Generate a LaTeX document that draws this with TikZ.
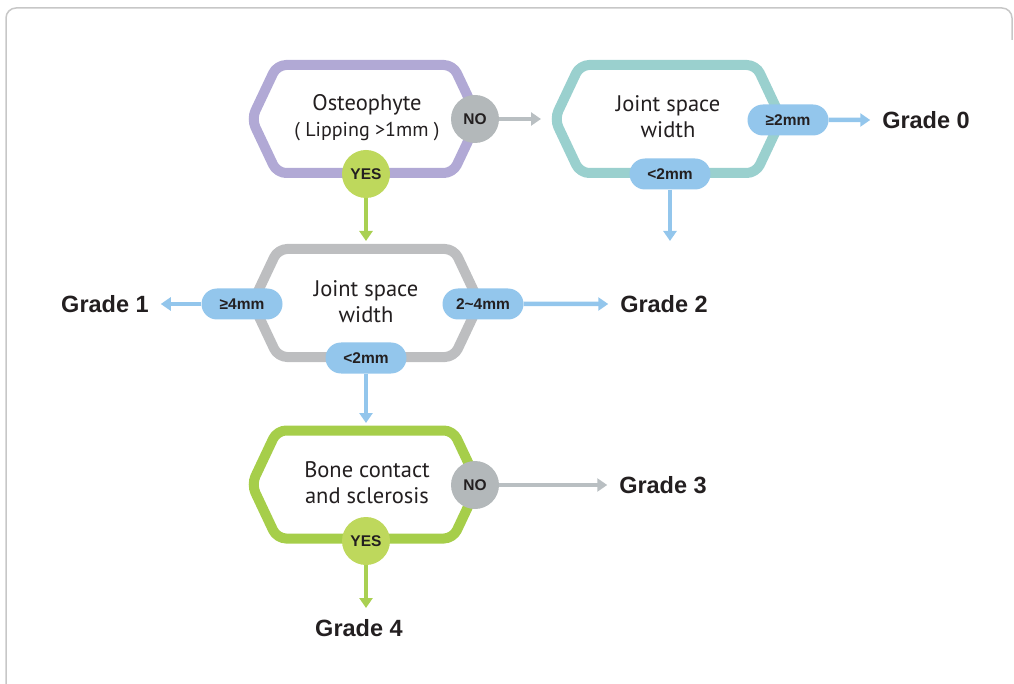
\documentclass[tikz,border=0pt]{standalone}
\usepackage{fontspec}
\setmainfont{Liberation Sans}
\newfontfamily\hexfont{PT Sans}
\usetikzlibrary{arrows.meta,shapes.misc}
\definecolor{cpurple}{HTML}{B1A9D5}
\definecolor{cteal}{HTML}{9AD0CE}
\definecolor{cgray}{HTML}{BDBEC0}
\definecolor{cgreen}{HTML}{A6CE4A}
\definecolor{cno}{HTML}{B3B8BA}
\definecolor{cyes}{HTML}{BED85C}
\definecolor{cblue}{HTML}{93C6EC}
\definecolor{carrgray}{HTML}{B9BFC2}
\definecolor{carrgreen}{HTML}{A9D052}
\definecolor{ctext}{HTML}{231F20}
\tikzset{
  hexline/.style={line width=10pt, rounded corners=9pt, fill=white},
  hextext/.style={align=center, text=ctext, font=\hexfont\fontsize{22.5}{26}\selectfont, inner sep=0pt},
  circ/.style={circle, minimum size=48pt, inner sep=0pt, text=ctext, font=\bfseries\fontsize{15.5}{17}\selectfont},
  nocirc/.style={circ, fill=cno},
  yescirc/.style={circ, fill=cyes},
  pill/.style={rounded rectangle, fill=cblue, minimum width=81pt, minimum height=31pt, inner sep=0pt, text=ctext, font=\bfseries\fontsize{15.5}{17}\selectfont},
  grade/.style={inner sep=0pt, outer sep=12pt, text=ctext, font=\bfseries\fontsize{23.5}{26}\selectfont},
  conn/.style={line width=4.5pt, -{Triangle[length=10pt,width=13pt]}},
  bluearr/.style={conn, draw=cblue},
  grayarr/.style={conn, draw=carrgray},
  greenarr/.style={conn, draw=carrgreen},
}
\newcommand\hexshape[3]{%
  \draw[hexline, draw=#3] (#1-113.5,#2) -- (#1-88,#2-54) -- (#1+88,#2-54) -- (#1+113.5,#2) -- (#1+88,#2+54) -- (#1-88,#2+54) -- cycle;}
\begin{document}
\begin{tikzpicture}[x=1pt,y=-1pt]
\useasboundingbox (0,0) rectangle (1014,684);
% frame
\draw[line width=1.5pt, draw=black!22, rounded corners=10pt] (6,700) -- (6,8) -- (1012,8) -- (1012,40);
% hexagons
\hexshape{365}{119}{cpurple}
\hexshape{668}{119}{cteal}
\hexshape{366}{303}{cgray}
\hexshape{365}{484.5}{cgreen}
% texts
\node[hextext] (t1) at (367,118) {Osteophyte\\{\fontsize{20}{26}\selectfont( Lipping >1mm )}};
\node[hextext] (t2) at (668,117) {Joint space\\width};
\node[hextext] (t3) at (366,302) {Joint space\\width};
\node[hextext] (t4) at (367,483) {Bone contact\\and sclerosis};
% decision markers
\node[nocirc] (no1) at (475,119) {NO};
\node[yescirc] (yes1) at (366,174) {YES};
\node[nocirc] (no4) at (475,485) {NO};
\node[yescirc] (yes4) at (366,541) {YES};
\node[pill] (p20) at (788,120) {≥2mm};
\node[pill] (p21) at (670,174) {<2mm};
\node[pill] (p4) at (242,304) {≥4mm};
\node[pill] (p24) at (483,304) {2\char`\~4mm};
\node[pill] (p32) at (366,358) {<2mm};
% grades
\node[grade] (g0) at (926,120) {Grade 0};
\node[grade] (g1) at (105,304) {Grade 1};
\node[grade] (g2) at (664,304) {Grade 2};
\node[grade] (g3) at (663,485) {Grade 3};
\node[grade] (g4) at (359,628) {Grade 4};
% coordinates for arrow ends
\coordinate (h2in) at (541,119);
\coordinate (h3in) at (366,241);
\coordinate (c21) at (670,241);
\coordinate (h4in) at (366,423);
\coordinate (g4in) at (366,608);
% connectors
\draw[grayarr] (no1) -- (h2in);
\draw[greenarr] (yes1) -- (h3in);
\draw[bluearr] (p20) -- (g0);
\draw[bluearr] (p21) -- (c21);
\draw[bluearr] (p4) -- (g1);
\draw[bluearr] (p24) -- (g2);
\draw[bluearr] (p32) -- (h4in);
\draw[grayarr] (no4) -- (g3);
\draw[greenarr] (yes4) -- (g4in);
\end{tikzpicture}
\end{document}
